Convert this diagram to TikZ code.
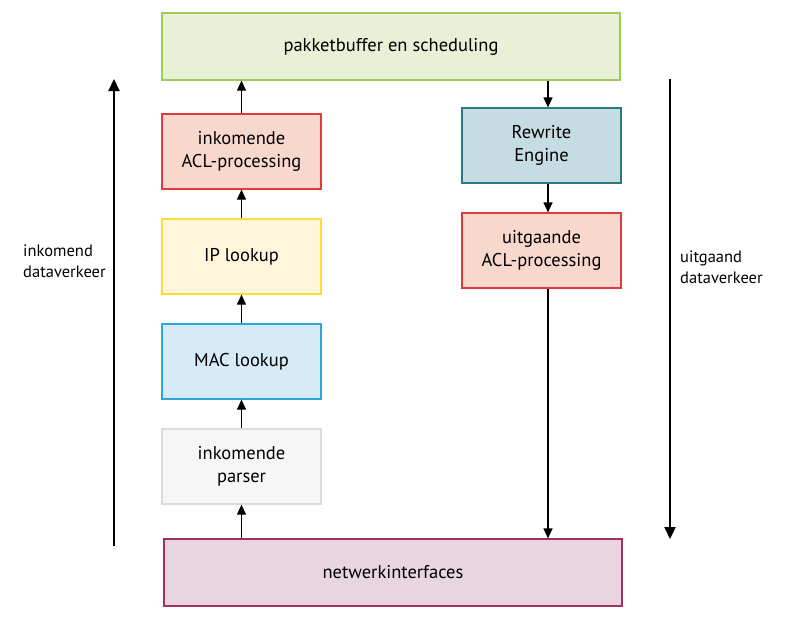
\documentclass[tikz,border=0pt]{standalone}
\usepackage{fontspec}
\setmainfont{PT Sans}
\usetikzlibrary{arrows.meta}
\definecolor{greenfill}{HTML}{E8F0D8}
\definecolor{greenline}{HTML}{9ACD5A}
\definecolor{salmonfill}{HTML}{F8D8CC}
\definecolor{redline}{HTML}{E03A3A}
\definecolor{tealfill}{HTML}{C6DCE3}
\definecolor{tealline}{HTML}{2A7A85}
\definecolor{yellowfill}{HTML}{FFF6DB}
\definecolor{yellowline}{HTML}{FFDD33}
\definecolor{bluefill}{HTML}{D6EBF7}
\definecolor{blueline}{HTML}{2AA8DD}
\definecolor{greyfill}{HTML}{F6F6F6}
\definecolor{greyline}{HTML}{DCDCDC}
\definecolor{mauvefill}{HTML}{E8D5E0}
\definecolor{mauveline}{HTML}{A0306A}
\tikzset{
  x=1pt, y=-1pt,
  block/.style={draw, line width=1.2pt, minimum width=159pt, minimum height=75pt,
    align=center, inner sep=0pt, font=\fontsize{18.5}{23}\selectfont},
  wide/.style={block, minimum width=458pt, minimum height=67pt},
  flow/.style={line width=1.2pt, -{Triangle[width=9pt,length=10pt]}},
  bigflow/.style={line width=2.2pt, -{Triangle[width=11pt,length=12pt]}},
  side/.style={align=left, font=\fontsize{16.5}{21}\selectfont, inner sep=0pt}
}
\begin{document}
\begin{tikzpicture}
\useasboundingbox (0,0) rectangle (787,619);
% processing blocks
\node[wide, fill=greenfill, draw=greenline] (buf) at (391,46.5) {pakketbuffer en scheduling};
\node[wide, fill=mauvefill, draw=mauveline] (nic) at (393,572.5) {netwerkinterfaces};
\node[block, fill=salmonfill, draw=redline] (inacl) at (241.5,151.5) {inkomende\\ACL-processing};
\node[block, fill=yellowfill, draw=yellowline] (ip) at (241.5,256.5) {IP lookup};
\node[block, fill=bluefill, draw=blueline] (mac) at (241.5,361.5) {MAC lookup};
\node[block, fill=greyfill, draw=greyline] (parse) at (241.5,466.5) {inkomende\\parser};
\node[block, fill=tealfill, draw=tealline] (rw) at (541.5,145.5) {Rewrite\\Engine};
\node[block, fill=salmonfill, draw=redline] (outacl) at (541.5,250.5) {uitgaande\\ACL-processing};
% ingress path
\draw[flow] (nic.north -| parse) -- (parse);
\draw[flow] (parse) -- (mac);
\draw[flow] (mac) -- (ip);
\draw[flow] (ip) -- (inacl);
\draw[flow] (inacl) -- (inacl |- buf.south);
% egress path
\coordinate (eg) at (548,0);
\draw[flow] (eg |- buf.south) -- (eg |- rw.north);
\draw[flow] (eg |- rw.south) -- (eg |- outacl.north);
\draw[flow] (eg |- outacl.south) -- (eg |- nic.north);
% direction indicators
\coordinate (inB) at (114,546);
\coordinate (inT) at (114,79);
\coordinate (outT) at (670,79);
\coordinate (outB) at (670,539);
\draw[bigflow] (inB) -- (inT);
\draw[bigflow] (outT) -- (outB);
\node[side, anchor=west] (inlbl) at (23,261) {inkomend\\dataverkeer};
\node[side, anchor=west] (outlbl) at (680,267) {uitgaand\\dataverkeer};
\end{tikzpicture}
\end{document}
